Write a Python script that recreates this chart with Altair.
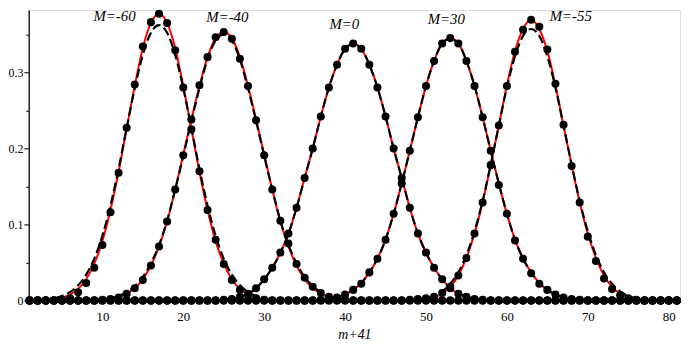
import altair as alt
import pandas as pd

# ---------------- data ----------------
CURVES = ["M=-60", "M=-40", "M=0", "M=30", "M=-55"]
M_MIN, M_MAX = 1, 81

# discrete values (dots), listed from a start value of m+41; zero elsewhere
dots_m60_start = 4
dots_m60 = [0.000, 0.001, 0.003, 0.011, 0.023, 0.043, 0.073, 0.116, 0.168, 0.227,
            0.284, 0.334, 0.366, 0.377, 0.365, 0.329, 0.280, 0.225, 0.170, 0.119,
            0.080, 0.048, 0.027, 0.014, 0.007, 0.003, 0.001]
dots_m40_start = 9
dots_m40 = [0.000, 0.001, 0.002, 0.004, 0.009, 0.016, 0.027, 0.046, 0.071, 0.104,
            0.146, 0.191, 0.238, 0.283, 0.320, 0.346, 0.353, 0.344, 0.318, 0.282,
            0.237, 0.191, 0.146, 0.105, 0.075, 0.048, 0.030, 0.018, 0.010, 0.005,
            0.002, 0.001]
dots_m0_start = 25
dots_m0 = [0.001, 0.002, 0.005, 0.009, 0.016, 0.028, 0.043, 0.063, 0.088, 0.122,
           0.161, 0.200, 0.242, 0.280, 0.310, 0.331, 0.338, 0.331, 0.310, 0.280,
           0.242, 0.200, 0.161, 0.122, 0.088, 0.063, 0.043, 0.028, 0.016, 0.009,
           0.005, 0.002, 0.001]
dots_p30_start = 37
dots_p30 = [0.001, 0.002, 0.004, 0.008, 0.014, 0.022, 0.037, 0.055, 0.080, 0.114,
            0.154, 0.197, 0.241, 0.282, 0.315, 0.338, 0.345, 0.338, 0.315, 0.282,
            0.241, 0.197, 0.152, 0.114, 0.079, 0.055, 0.036, 0.022, 0.014, 0.008,
            0.004, 0.002, 0.001]
dots_m55_start = 47
dots_m55 = [0.000, 0.001, 0.002, 0.003, 0.005, 0.010, 0.018, 0.033, 0.056, 0.088,
            0.129, 0.178, 0.230, 0.282, 0.327, 0.356, 0.369, 0.360, 0.330, 0.285,
            0.231, 0.177, 0.129, 0.084, 0.052, 0.029, 0.015, 0.007, 0.003, 0.001]

# red solid curves
red_m60_start = 3
red_m60 = [0.0007, 0.0017, 0.0037, 0.0078, 0.0153, 0.028, 0.0485, 0.078, 0.119, 0.169,
           0.226, 0.282, 0.332, 0.365, 0.377, 0.365, 0.332, 0.282, 0.226, 0.169,
           0.119, 0.078, 0.0485, 0.028, 0.0153, 0.0078, 0.0037, 0.0017, 0.0007]
red_m40_start = 10
red_m40 = [0.001, 0.002, 0.004, 0.009, 0.016, 0.028, 0.046, 0.071, 0.104, 0.146,
           0.192, 0.238, 0.282, 0.320, 0.345, 0.353, 0.345, 0.320, 0.282, 0.238,
           0.192, 0.146, 0.104, 0.071, 0.046, 0.028, 0.016, 0.009, 0.004, 0.002, 0.001]
red_m0_start = 25
red_m0 = [0.001, 0.002, 0.005, 0.009, 0.016, 0.028, 0.043, 0.063, 0.088, 0.122,
          0.161, 0.200, 0.242, 0.280, 0.310, 0.331, 0.338, 0.331, 0.310, 0.280,
          0.242, 0.200, 0.161, 0.122, 0.088, 0.063, 0.043, 0.028, 0.016, 0.009,
          0.005, 0.002, 0.001]
red_p30_start = 37
red_p30 = [0.001, 0.002, 0.004, 0.008, 0.014, 0.023, 0.037, 0.055, 0.080, 0.114,
           0.154, 0.197, 0.241, 0.282, 0.315, 0.338, 0.345, 0.338, 0.315, 0.282,
           0.241, 0.197, 0.154, 0.114, 0.080, 0.055, 0.037, 0.023, 0.014, 0.008,
           0.004, 0.002, 0.001]
red_m55_start = 49
red_m55 = [0.001, 0.002, 0.004, 0.009, 0.018, 0.033, 0.056, 0.088, 0.129, 0.178,
           0.230, 0.283, 0.328, 0.357, 0.369, 0.357, 0.328, 0.283, 0.230, 0.178,
           0.129, 0.088, 0.056, 0.033, 0.018, 0.009, 0.004, 0.002, 0.001]

# black dashed curves
dash_m60_start = 2
dash_m60 = [0.0007, 0.0015, 0.003, 0.006, 0.011, 0.020, 0.034, 0.055, 0.085, 0.125,
            0.173, 0.227, 0.279, 0.323, 0.352, 0.362, 0.352, 0.323, 0.279, 0.227,
            0.173, 0.125, 0.085, 0.055, 0.034, 0.020, 0.011, 0.006, 0.003, 0.0015, 0.0007]
dash_m40_start = 9
dash_m40 = [0.001, 0.002, 0.003, 0.006, 0.011, 0.019, 0.031, 0.049, 0.073, 0.105,
            0.146, 0.190, 0.236, 0.279, 0.317, 0.342, 0.350, 0.342, 0.317, 0.279,
            0.236, 0.190, 0.146, 0.105, 0.073, 0.049, 0.031, 0.019, 0.011, 0.006,
            0.003, 0.002, 0.001]
dash_m0_start = 25
dash_m0 = [0.001, 0.002, 0.005, 0.009, 0.016, 0.028, 0.043, 0.063, 0.088, 0.122,
           0.161, 0.200, 0.242, 0.280, 0.310, 0.331, 0.337, 0.331, 0.310, 0.280,
           0.242, 0.200, 0.161, 0.122, 0.088, 0.063, 0.043, 0.028, 0.016, 0.009,
           0.005, 0.002, 0.001]
dash_p30_start = 37
dash_p30 = [0.001, 0.002, 0.004, 0.008, 0.014, 0.023, 0.037, 0.055, 0.080, 0.114,
            0.154, 0.197, 0.241, 0.282, 0.315, 0.338, 0.344, 0.338, 0.315, 0.282,
            0.241, 0.197, 0.154, 0.114, 0.080, 0.055, 0.037, 0.023, 0.014, 0.008,
            0.004, 0.002, 0.001]
dash_m55_start = 48
dash_m55 = [0.0007, 0.0015, 0.003, 0.006, 0.012, 0.022, 0.037, 0.060, 0.091, 0.131,
            0.179, 0.230, 0.280, 0.321, 0.348, 0.357, 0.348, 0.321, 0.280, 0.230,
            0.179, 0.131, 0.091, 0.060, 0.037, 0.022, 0.012, 0.006, 0.003, 0.0015, 0.0007]

# curve labels (text, anchor in data units)
label_m = [11.5, 25.45, 39.9, 52.5, 67.9]
label_v = [0.3742, 0.3729, 0.3632, 0.3703, 0.3742]

x_ticks = [10, 20, 30, 40, 50, 60, 70, 80]
y_ticks = [0, 0.05, 0.1, 0.15, 0.2, 0.25, 0.3, 0.35]

# ---------------- build tables ----------------
def padded(start, vals):
    out = []
    for m in range(M_MIN, M_MAX + 1):
        i = m - start
        out.append(vals[i] if 0 <= i < len(vals) else 0.0)
    return out

def table(series):
    rows = []
    for name, (start, vals) in zip(CURVES, series):
        for m, v in zip(range(M_MIN, M_MAX + 1), padded(start, vals)):
            rows.append({"m": m, "v": v, "curve": name})
    return pd.DataFrame(rows)

dots_df = table([(dots_m60_start, dots_m60), (dots_m40_start, dots_m40),
                 (dots_m0_start, dots_m0), (dots_p30_start, dots_p30),
                 (dots_m55_start, dots_m55)])
red_df = table([(red_m60_start, red_m60), (red_m40_start, red_m40),
                (red_m0_start, red_m0), (red_p30_start, red_p30),
                (red_m55_start, red_m55)])
dash_df = table([(dash_m60_start, dash_m60), (dash_m40_start, dash_m40),
                 (dash_m0_start, dash_m0), (dash_p30_start, dash_p30),
                 (dash_m55_start, dash_m55)])
labels_df = pd.DataFrame({"m": label_m, "v": label_v, "text": CURVES})

FONT = "Liberation Serif"

x_scale = alt.Scale(domain=[0.9, 81.4], nice=False, zero=False)
y_scale = alt.Scale(domain=[0, 0.382], nice=False)

x_axis = alt.Axis(values=x_ticks, ticks=False, grid=False, labelPadding=10,
                  labelFont=FONT, labelFontSize=13, labelColor="black",
                  domainColor="#222", domainWidth=1.5,
                  title="m+41", titleFont=FONT, titleFontStyle="italic",
                  titleFontWeight="normal", titleFontSize=14, titlePadding=4,
                  titleColor="black")
y_axis = alt.Axis(values=y_ticks, grid=False, title=None,
                  labelExpr="round(datum.value*20) % 2 == 0 ? (datum.value == 0 ? '0' : format(datum.value, '.1f')) : ''",
                  tickSize={"condition": {"test": "round(datum.value*20) % 2 == 0", "value": 5}, "value": 3},
                  tickColor="#222", tickWidth=1.2, labelPadding=1,
                  labelFont=FONT, labelFontSize=12, labelColor="black",
                  domainColor="#222", domainWidth=1.5)

X = alt.X("m:Q", scale=x_scale, axis=x_axis)
Y = alt.Y("v:Q", scale=y_scale, axis=y_axis)

red = alt.Chart(red_df).mark_line(color="#ff0000", strokeWidth=2,
                                  interpolate="monotone").encode(x=X, y=Y, detail="curve:N")
dash = alt.Chart(dash_df).mark_line(color="black", strokeWidth=2.2, strokeDash=[9, 4],
                                    interpolate="monotone").encode(x=X, y=Y, detail="curve:N")
dots = alt.Chart(dots_df).mark_circle(color="black", size=66, opacity=1).encode(x=X, y=Y)
texts = alt.Chart(labels_df).mark_text(font=FONT, fontStyle="italic", fontSize=15,
                                       align="center", baseline="middle",
                                       color="black").encode(x=X, y=Y, text="text:N")

chart = alt.layer(red, dash, dots, texts).properties(
    width=659, height=294,
    autosize=alt.AutoSizeParams(type="none"),
    padding={"left": 21, "top": 0, "right": 3, "bottom": 42},
).configure_view(stroke=None).configure(background="white")

chart.save("out.html", embed_options={"renderer": "svg", "actions": False})
